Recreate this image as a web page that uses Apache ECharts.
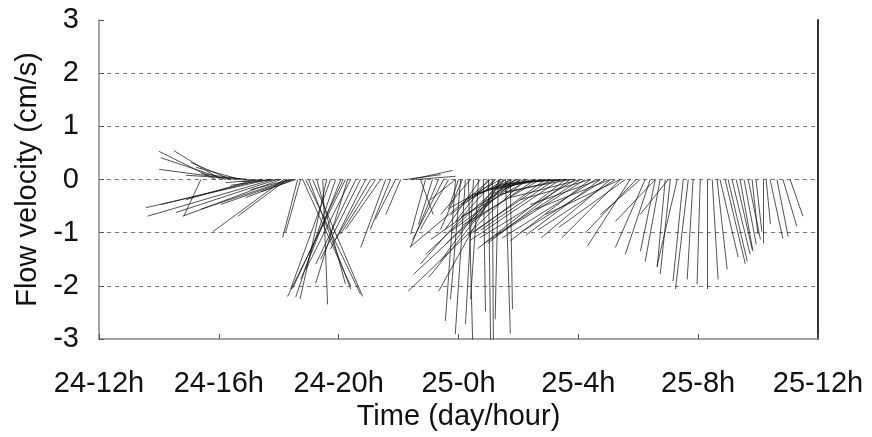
<!DOCTYPE html>
<html>
<head>
<meta charset="utf-8">
<script src="https://cdn.jsdelivr.net/npm/echarts@6/dist/echarts.min.js"></script>
<style>
html,body{margin:0;padding:0;background:#fff;}
#chart{width:872px;height:437px;}
</style>
</head>
<body>
<div id="chart"></div>
<script>
// Tick labels of the time axis (hours from 24-12h, every 4 h)
const timeTickLabels = ["24-12h", "24-16h", "24-20h", "25-0h", "25-4h", "25-8h", "25-12h"];

// Stick start times (hours after 24-12h)
const stickTime = [
  3.90, 4.07, 4.23, 4.40, 4.57, 4.73, 4.90, 5.07, 5.40, 5.73, 6.07,
  3.40, 5.23, 5.47, 5.67, 5.80, 5.93, 6.07, 6.17, 6.27, 6.37, 6.43, 6.50, 6.57, 6.63, 6.40,
  6.73, 6.90, 7.00, 7.13, 7.27, 7.47, 7.73, 7.90, 8.07, 8.23, 8.40, 8.57, 8.73, 8.90, 9.07,
  9.23, 9.40, 9.57, 9.73, 9.90, 10.07, 6.80, 7.60, 8.15, 8.30,
  10.23, 10.40, 10.57, 10.73, 10.90, 11.13, 11.33, 11.50, 11.67,
  11.90, 12.07, 12.23, 12.33, 12.50, 12.67, 12.83, 13.00, 13.13, 13.33, 13.57, 13.73,
  14.23, 13.90, 13.67, 13.40, 13.07, 13.23, 13.40, 13.57, 13.73, 13.90, 14.07, 12.13, 12.00,
  13.40, 13.57, 13.80, 14.00, 14.23,
  11.90, 12.40, 12.73, 13.00, 13.23, 13.50, 14.07, 14.33, 14.57, 14.90, 15.23, 15.57, 15.90,
  14.40, 14.57, 14.73, 14.90, 15.07, 15.23, 15.40, 15.57, 15.73, 15.90, 16.07, 16.23, 16.40,
  16.57, 16.73, 16.90, 17.07, 17.23, 17.40, 17.57, 17.73, 17.93,
  14.73, 15.07, 15.40, 15.73, 16.07, 16.40, 16.73, 17.07, 17.40,
  18.07, 18.23, 18.40, 18.57, 18.57, 18.73, 18.90, 19.00, 19.07, 19.30, 19.50, 19.67, 19.83,
  20.07, 20.30, 20.47, 20.63, 20.73, 20.90, 21.00, 21.13, 21.27, 21.40, 21.53, 21.67, 21.80,
  21.93, 22.17, 22.27, 22.40, 22.63, 22.83, 23.07
];

// East-west velocity component (cm/s)
const velU = [
  -1.07, -0.88, -1.22, -0.75, -1.44, -0.84, -0.84, -1.22, -0.66, -0.75, -0.75,
  -0.32, -1.31, -1.91, -2.31, -2.35, -1.89, -1.84, -1.33, -0.92, -1.67, -1.33, -0.90, -0.66, -0.28, -0.75,
  -0.28, 1.03, 0.79, 0.94, 0.54, 0.09, -0.75, -0.75, -0.75, -1.09, -0.84, -0.75, -0.75, -0.66, -0.66,
  -0.66, -0.66, -0.47, -0.38, -0.38, -0.28, 0.90, -0.50, -0.95, -0.60,
  0.66, 0.79, 0.75, 0.24, -0.28, -0.26, -0.53, -0.58, -0.53,
  -0.19, -0.19, -0.19, 0.08, -0.15, -0.15, 0.04, 0.04, 0.02, -0.06, 0.09, 0.04,
  -2.20, -1.91, -1.50, -1.16, -1.50, -1.41, -1.13, -1.50, -1.22, -1.59, -1.31, -0.41, -0.19,
  -0.94, -0.84, -0.88, -0.90, -0.94,
  -0.47, -0.56, -0.66, -0.62, -0.84, -0.62, -0.75, -0.71, -0.75, -0.84, -0.94, -0.94, -0.94,
  -1.30, -1.20, -1.45, -1.35, -1.55, -1.40, -1.70, -1.65, -1.55, -1.80, -1.60, -1.90, -1.50,
  -1.75, -1.40, -1.60, -1.30, -1.45, -1.10, -1.25, -0.80, -0.95,
  -0.94, -1.03, -1.13, -1.22, -1.31, -1.31, -1.31, -1.41, -1.41,
  -0.75, -0.56, -0.47, -0.28, -0.75, -0.28, -0.15, -0.53, -0.19, -0.38, -0.19, -0.24, -0.11,
  -0.06, 0.00, 0.11, 0.19, 0.34, 0.38, 0.36, 0.34, 0.30, 0.24, 0.23, 0.23, 0.11,
  0.11, 0.00, 0.08, 0.24, 0.21, 0.26, 0.24
];

// North-south velocity component (cm/s)
const velV = [
  0.53, 0.54, 0.41, 0.32, 0.19, 0.23, 0.11, 0.08, -0.06, -0.11, -0.04,
  -0.69, -0.38, -0.47, -0.53, -0.69, -0.62, -0.69, -0.98, -0.69, -0.56, -0.47, -0.34, -0.23, -1.09, -0.19,
  -0.99, -2.16, -2.06, -2.20, -1.97, -2.35, -2.06, -2.21, -1.88, -2.20, -1.69, -1.59, -1.50, -1.31, -1.13,
  -1.03, -0.94, -1.28, -0.94, -0.75, -0.66, -2.00, -2.25, -2.05, -1.95,
  0.09, 0.17, 0.06, -0.66, -1.03, -0.84, -1.28, -1.13, -0.94,
  -2.66, -2.25, -2.91, -3.04, -2.72, -2.25, -2.48, -3.04, -3.10, -2.63, -2.90, -2.44,
  -2.10, -1.78, -1.84, -2.10, -1.26, -1.59, -1.54, -1.41, -1.22, -1.13, -0.98, -0.94, -0.56,
  -0.53, -0.47, -0.38, -0.30, -0.28,
  -0.38, -0.66, -0.94, -0.79, -0.66, -0.84, -0.47, -0.28, -0.19, -0.11, -0.08, -0.06, -0.04,
  -0.70, -0.80, -0.85, -1.00, -1.05, -0.95, -1.15, -1.30, -1.20, -1.10, -1.05, -1.20, -1.15,
  -1.10, -1.05, -1.00, -1.10, -0.95, -1.10, -0.90, -1.25, -1.00,
  -0.19, -0.15, -0.28, -0.23, -0.34, -0.38, -0.47, -0.56, -0.66,
  -0.66, -1.28, -1.41, -1.35, -0.79, -1.54, -1.65, -0.66, -1.78, -1.63, -1.91, -2.06, -1.88,
  -1.97, -2.06, -1.88, -1.69, -1.46, -1.59, -1.54, -1.41, -1.31, -1.35, -1.22, -1.13, -1.03,
  -0.98, -1.20, -0.84, -1.11, -1.07, -0.88, -0.69
];

// Horizontal length of a 1 cm/s stick, in hours (same drawn length as 1 cm/s vertically)
const STICK_SCALE = 1.777;

const sticks = stickTime.map((t, i) => ({
  coords: [[t, 0], [t + velU[i] * STICK_SCALE, velV[i]]]
}));

const FONT = "'Liberation Sans', Arial, sans-serif";
const chart = echarts.init(document.getElementById('chart'), null, {renderer: 'canvas'});
chart.setOption({
  animation: false,
  backgroundColor: '#fff',
  grid: {left: 99, right: 54, top: 20, bottom: 98, containLabel: false},
  xAxis: {
    type: 'value', min: 0, max: 24, interval: 4,
    name: 'Time (day/hour)', nameLocation: 'middle', nameGap: 54,
    nameTextStyle: {fontFamily: FONT, fontSize: 29, color: '#111'},
    axisLine: {show: true, onZero: false, lineStyle: {color: '#888', width: 1.5}},
    axisTick: {show: true, inside: true, length: 5, lineStyle: {color: '#555', width: 1}},
    axisLabel: {
      fontFamily: FONT, fontSize: 29, color: '#111', margin: 30,
      formatter: (val) => timeTickLabels[Math.round(val / 4)] || ''
    },
    splitLine: {show: false}
  },
  yAxis: [{
    type: 'value', min: -3, max: 3, interval: 1,
    name: 'Flow velocity (cm/s)', nameLocation: 'middle', nameGap: 48,
    nameTextStyle: {fontFamily: FONT, fontSize: 29, color: '#111'},
    axisLine: {show: true, lineStyle: {color: '#888', width: 1.5}},
    axisTick: {show: true, inside: true, length: 5, lineStyle: {color: '#555', width: 1}},
    axisLabel: {fontFamily: FONT, fontSize: 29, color: '#111', margin: 20},
    splitLine: {show: true, showMinLine: false, showMaxLine: false,
      lineStyle: {color: '#777', type: [4, 4], width: 1}}
  }, {
    type: 'value', min: -3, max: 3, position: 'right',
    axisLine: {show: true, lineStyle: {color: '#333', width: 2}},
    axisTick: {show: false}, axisLabel: {show: false}, splitLine: {show: false}
  }],
  series: [{
    type: 'lines',
    coordinateSystem: 'cartesian2d',
    xAxisIndex: 0, yAxisIndex: 0,
    polyline: false,
    clip: true,
    silent: true,
    lineStyle: {color: '#111', width: 0.8, opacity: 0.9, curveness: 0},
    data: sticks
  }]
});
</script>
</body>
</html>
